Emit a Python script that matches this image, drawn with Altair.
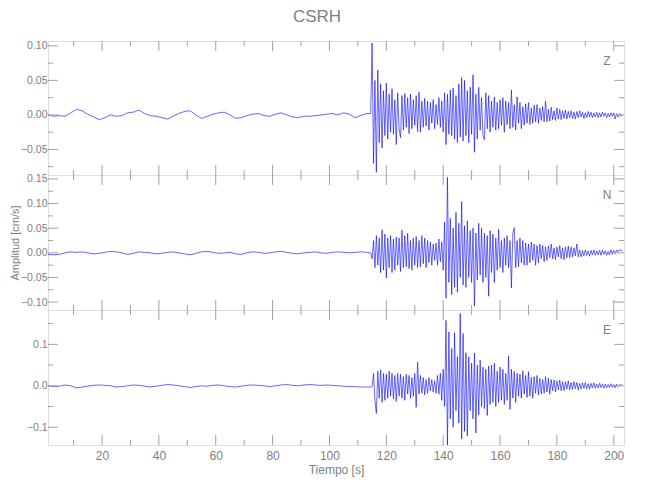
import altair as alt
import pandas as pd

# ---------------- data ----------------
T_PRE_START, T_PRE_STEP = 1.0, 2.0
T_EVT_START, T_EVT_STEP = 114.5, 0.5

Z_PRE = [0.000, -0.002, -0.001, -0.002, 0.003, 0.008, 0.006, 0.001, -0.003, -0.007,
         -0.004, 0.000, -0.002, -0.001, 0.003, 0.004, 0.007, 0.002, -0.001, -0.002,
         -0.004, -0.006, -0.002, 0.002, 0.005, 0.006, 0.000, -0.005, -0.002, 0.001,
         0.003, 0.004, 0.000, -0.005, -0.004, -0.001, 0.001, 0.002, -0.001, -0.002,
         0.001, 0.003, 0.000, -0.003, -0.004, -0.002, -0.002, -0.001, 0.000, 0.001,
         0.002, 0.000, 0.003, 0.001, -0.004, -0.001, 0.002]
Z_EVT = [0.002, 0.104, -0.070, 0.050, -0.083, 0.065, -0.040, 0.045, -0.048, 0.035,
         -0.030, 0.046, -0.035, 0.030, -0.025, 0.038, -0.028, 0.022, -0.043, 0.032,
         -0.020, -0.033, 0.028, -0.022, 0.031, -0.018, 0.025, -0.027, 0.030, -0.020,
         0.022, -0.015, 0.028, -0.024, 0.033, -0.025, 0.020, -0.018, 0.024, -0.016,
         0.020, -0.022, 0.018, -0.012, 0.022, -0.020, 0.015, -0.014, 0.025, -0.018,
         0.020, -0.025, 0.032, -0.043, 0.030, -0.028, 0.036, -0.030, 0.039, -0.035,
         0.028, -0.040, 0.045, -0.032, 0.054, -0.038, 0.050, -0.030, 0.035, -0.040,
         0.040, -0.028, 0.058, -0.054, 0.030, -0.035, 0.040, -0.022, 0.025, -0.030,
         -0.036, 0.032, -0.020, 0.028, -0.025, 0.020, -0.018, 0.026, -0.022, 0.018,
         -0.020, 0.022, -0.015, 0.025, -0.025, 0.020, -0.014, 0.018, -0.020, 0.036,
         -0.018, 0.015, -0.022, 0.026, -0.012, 0.018, -0.020, 0.012, -0.015, 0.016,
         -0.012, 0.018, -0.014, 0.010, -0.012, 0.014, -0.010, 0.015, -0.012, 0.010,
         -0.008, 0.012, -0.010, 0.020, -0.010, 0.008, -0.009, 0.011, -0.007, 0.006,
         -0.008, 0.010, -0.006, 0.008, -0.007, 0.006, -0.005, 0.007, -0.006, 0.005,
         -0.004, 0.006, -0.005, 0.004, -0.006, 0.005, -0.004, 0.006, -0.003, 0.004,
         -0.005, 0.003, -0.004, 0.005, -0.003, 0.004, -0.004, 0.003, -0.003, 0.004,
         -0.004, 0.003, -0.003, 0.004, -0.002, 0.003, -0.004, 0.002, -0.003, 0.003,
         -0.002, 0.003, -0.006, 0.002, -0.003, 0.002, -0.002, 0.001]

N_PRE = [-0.003, -0.004, -0.003, 0.000, 0.002, 0.001, 0.002, 0.000, -0.002, -0.001,
         0.001, 0.003, 0.002, 0.000, -0.003, -0.001, 0.002, 0.001, 0.000, -0.002,
         -0.001, 0.001, 0.002, 0.000, -0.002, -0.004, -0.001, 0.002, 0.003, 0.001,
         -0.001, 0.000, 0.001, -0.002, -0.003, 0.000, 0.002, 0.001, -0.001, 0.000,
         0.002, 0.003, 0.001, -0.001, -0.002, 0.000, 0.001, 0.002, 0.000, -0.001,
         0.001, 0.002, 0.001, 0.000, 0.001, 0.002, 0.001]
N_EVT = [0.000, -0.012, 0.025, -0.030, 0.035, -0.025, 0.030, -0.040, 0.047, -0.035,
         0.038, -0.051, 0.030, -0.030, 0.035, -0.040, 0.028, -0.035, 0.032, -0.025,
         0.030, -0.038, 0.046, -0.030, 0.035, -0.028, 0.040, -0.032, 0.025, -0.035,
         0.030, -0.025, 0.033, -0.030, 0.025, -0.028, 0.035, -0.022, 0.030, -0.030,
         0.025, -0.020, 0.022, -0.025, 0.018, -0.015, 0.020, -0.025, 0.028, -0.018,
         0.022, -0.035, 0.063, -0.092, 0.153, -0.060, 0.070, -0.085, 0.050, -0.070,
         0.082, -0.080, 0.060, -0.050, 0.104, -0.065, 0.055, -0.070, 0.065, -0.050,
         0.045, -0.060, 0.050, -0.108, 0.040, -0.055, 0.060, -0.045, 0.050, -0.060,
         0.040, -0.050, 0.035, -0.088, 0.045, -0.040, 0.038, -0.060, 0.030, -0.035,
         0.048, -0.030, 0.025, -0.040, 0.030, -0.025, 0.035, -0.030, 0.025, -0.071,
         0.040, 0.051, -0.030, 0.025, -0.028, 0.030, -0.020, 0.025, -0.025, 0.020,
         -0.025, 0.018, -0.020, 0.022, -0.015, 0.018, -0.025, 0.015, -0.020, 0.018,
         -0.012, 0.015, -0.018, 0.012, -0.015, 0.014, -0.010, 0.018, -0.012, 0.010,
         -0.014, 0.012, -0.008, 0.015, -0.012, 0.010, -0.014, 0.012, -0.010, 0.014,
         -0.010, 0.012, -0.008, 0.010, -0.006, 0.018, -0.008, 0.006, -0.008, 0.005,
         -0.006, 0.006, -0.005, 0.004, -0.007, 0.005, -0.004, 0.006, -0.005, 0.004,
         -0.004, 0.005, -0.005, 0.006, -0.003, 0.004, -0.005, 0.003, -0.004, 0.006,
         -0.003, 0.005, -0.002, 0.006, 0.002, 0.007, 0.004, 0.005]

E_PRE = [0.000, -0.002, -0.001, 0.002, 0.000, -0.005, -0.003, -0.001, 0.001, 0.002,
         0.001, 0.000, -0.003, -0.002, 0.000, 0.002, 0.001, -0.001, -0.003, -0.001,
         0.001, 0.003, 0.002, 0.000, -0.002, -0.004, -0.002, 0.000, -0.001, 0.001,
         0.002, 0.000, -0.002, -0.003, -0.001, 0.001, 0.002, 0.001, 0.000, -0.002,
         0.000, 0.002, 0.003, 0.001, 0.000, 0.002, 0.003, 0.002, 0.001, 0.002,
         0.001, 0.000, -0.001, -0.002, -0.002, -0.003, -0.003]
E_EVT = [-0.003, -0.002, 0.030, -0.035, -0.067, 0.035, -0.030, 0.038, -0.040, 0.030,
         -0.035, 0.028, -0.030, 0.035, -0.025, 0.030, -0.032, 0.025, -0.038, 0.030,
         -0.025, 0.028, -0.030, 0.022, -0.035, 0.028, -0.020, 0.025, -0.030, 0.020,
         -0.025, 0.030, -0.052, 0.057, -0.020, 0.025, -0.018, 0.020, -0.022, 0.015,
         -0.018, 0.020, -0.012, 0.015, -0.015, 0.012, -0.018, 0.025, -0.020, 0.030,
         -0.035, 0.040, -0.050, 0.158, -0.145, 0.130, -0.080, 0.090, -0.100, 0.128,
         -0.060, 0.070, -0.090, 0.175, -0.128, 0.126, -0.110, 0.080, -0.121, 0.070,
         -0.060, 0.055, -0.080, 0.079, -0.114, 0.050, -0.070, 0.062, -0.050, 0.045,
         -0.055, 0.040, -0.072, 0.048, -0.045, 0.050, -0.040, 0.054, -0.050, 0.035,
         -0.040, 0.045, -0.035, 0.040, -0.045, 0.030, -0.035, 0.072, -0.057, 0.040,
         -0.030, 0.035, -0.040, 0.030, -0.025, 0.028, -0.030, 0.036, -0.020, 0.025,
         -0.028, 0.034, -0.025, 0.020, -0.030, 0.022, -0.018, 0.025, -0.022, 0.018,
         -0.020, 0.015, -0.018, 0.022, -0.015, 0.018, -0.020, 0.015, -0.012, 0.014,
         -0.015, 0.012, -0.010, 0.014, -0.012, 0.010, -0.012, 0.010, -0.008, 0.012,
         -0.010, 0.008, -0.009, 0.010, -0.007, 0.008, -0.010, 0.006, -0.008, 0.007,
         -0.006, 0.008, -0.007, 0.005, -0.008, 0.006, -0.005, 0.007, -0.006, 0.004,
         -0.005, 0.006, -0.004, 0.005, -0.006, 0.004, -0.005, 0.003, -0.004, 0.005,
         -0.004, 0.003, -0.005, 0.004, -0.002, 0.003, 0.001, 0.004]

X_DOMAIN = [1.0, 203.6]
X_MAJOR = [20, 40, 60, 80, 100, 120, 140, 160, 180, 200]
X_MINOR = [10, 30, 50, 70, 90, 110, 130, 150, 170, 190]

Z_DOMAIN = [-0.087, 0.107]
Z_MAJOR = [-0.05, 0.0, 0.05, 0.10]
Z_MINOR = [-0.075, -0.025, 0.025, 0.075]

N_DOMAIN = [-0.116, 0.158]
N_MAJOR = [-0.10, -0.05, 0.0, 0.05, 0.10, 0.15]
N_MINOR = [-0.075, -0.025, 0.025, 0.075, 0.125]

E_DOMAIN = [-0.143, 0.183]
E_MAJOR = [-0.1, 0.0, 0.1]
E_MINOR = [-0.05, 0.05, 0.15]

# ---------------- style ----------------
W = 576
FRAME = "#a0a0a0"
TEXT = "#808080"
FONT = "Liberation Sans, Arial, sans-serif"
LINE = "#0000ff"


def series(pre, evt):
    t = [T_PRE_START + T_PRE_STEP * i for i in range(len(pre))]
    t += [T_EVT_START + T_EVT_STEP * i for i in range(len(evt))]
    return pd.DataFrame({"t": t, "a": list(pre) + list(evt)})


def panel(pre, evt, ydom, ymaj, ymin, label, fmt, height, ytitle=None, xaxis=False):
    xs = alt.Scale(domain=X_DOMAIN, nice=False, zero=False)
    ys = alt.Scale(domain=ydom, nice=False, zero=False)
    yaxis_kw = dict(values=ymaj, format=fmt, ticks=False, domain=False, grid=False,
                    labelPadding=1, labelFontSize=10.5, labelColor=TEXT, labelFont=FONT)
    if ytitle:
        yaxis_kw.update(title=ytitle, titlePadding=0, titleFontSize=11,
                        titleFont=FONT, titleColor=TEXT, titleFontWeight="normal")
    else:
        yaxis_kw.update(title=None)
    yax = alt.Axis(**yaxis_kw)
    if xaxis:
        xax = alt.Axis(values=X_MAJOR, format="d", ticks=False, domain=False, grid=False,
                       labelPadding=5, labelFontSize=12, labelColor=TEXT, labelFont=FONT,
                       title="Tiempo [s]", titlePadding=3, titleFontSize=12,
                       titleFont=FONT, titleColor=TEXT, titleFontWeight="normal")
    else:
        xax = None

    line = alt.Chart(series(pre, evt)).mark_line(
        color=LINE, strokeWidth=0.6, clip=True
    ).encode(
        x=alt.X("t:Q", scale=xs, axis=xax),
        y=alt.Y("a:Q", scale=ys, axis=yax),
    )

    layers = [line]
    for vals, ln in ((ymaj, 10), (ymin, 5)):
        d = pd.DataFrame({"a": vals})
        layers.append(alt.Chart(d).mark_rule(color=FRAME, strokeWidth=1).encode(
            y=alt.Y("a:Q", scale=ys, axis=yax), x=alt.value(0), x2=alt.value(ln)))
        layers.append(alt.Chart(d).mark_rule(color=FRAME, strokeWidth=1).encode(
            y=alt.Y("a:Q", scale=ys, axis=yax), x=alt.value(W), x2=alt.value(W - ln)))
    for vals, ln in ((X_MAJOR, 10), (X_MINOR, 5)):
        d = pd.DataFrame({"t": vals})
        layers.append(alt.Chart(d).mark_rule(color=FRAME, strokeWidth=1).encode(
            x=alt.X("t:Q", scale=xs, axis=xax), y=alt.value(0), y2=alt.value(ln)))
        layers.append(alt.Chart(d).mark_rule(color=FRAME, strokeWidth=1).encode(
            x=alt.X("t:Q", scale=xs, axis=xax), y=alt.value(height), y2=alt.value(height - ln)))
    lab = alt.Chart(pd.DataFrame({"c": [label]})).mark_text(
        font=FONT, fontSize=12, color=TEXT, align="center", baseline="middle"
    ).encode(text="c:N", x=alt.value(W - 17), y=alt.value(20))
    layers.append(lab)
    return alt.layer(*layers).properties(width=W, height=height)


pz = panel(Z_PRE, Z_EVT, Z_DOMAIN, Z_MAJOR, Z_MINOR, "Z", ".2f", 134)
pn = panel(N_PRE, N_EVT, N_DOMAIN, N_MAJOR, N_MINOR, "N", ".2f", 135, ytitle="Amplitud [cm/s]")
pe = panel(E_PRE, E_EVT, E_DOMAIN, E_MAJOR, E_MINOR, "E", ".1f", 135, xaxis=True)

chart = alt.vconcat(pz, pn, pe, spacing=0, bounds="flush").properties(
    title=alt.Title("CSRH", fontSize=17, color=TEXT, font=FONT, fontWeight="normal",
                    anchor="middle", offset=14),
    padding={"left": 0, "top": 0, "right": 5, "bottom": 5},
).configure_view(stroke=FRAME, strokeWidth=1).configure(background="white")

chart.save("out.html", embed_options={"renderer": "svg", "actions": False})
